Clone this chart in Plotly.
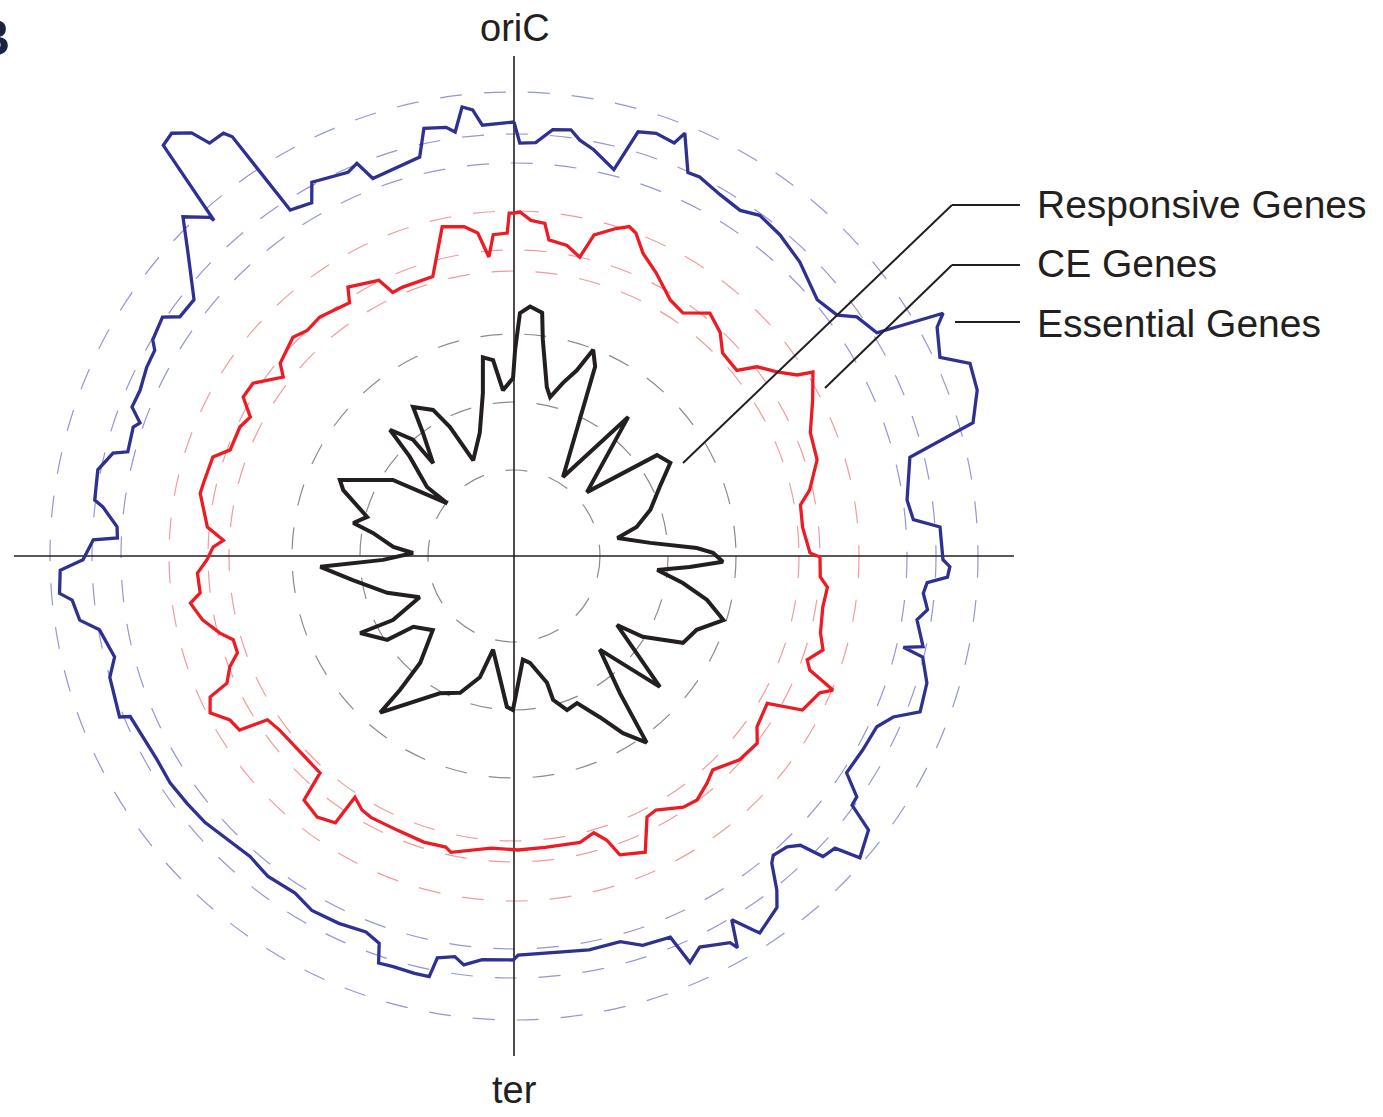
import numpy as np
import plotly.graph_objects as go

W, H = 1383, 1117
CX, CY, R = 514, 556, 500  # centre of the circular plot (px from top-left) and axis half-length

# ---- data: (genome angle in degrees clockwise from oriC, radial value) ----
essential = [(0, 434), (0.8, 413), (3.0, 414), (5.2, 428), (7.6, 430), (9.0, 421), (11.1, 414), (14.5, 399),
             (16.3, 442), (18.6, 446), (21.2, 443), (22.0, 456), (24.4, 421), (26.1, 422), (29.7, 416),
             (33.2, 413), (35.8, 420), (39.6, 417), (44.2, 410), (49.8, 397), (53.3, 403), (55.1, 418),
             (58.4, 426), (60.5, 493), (61.6, 481), (65.0, 470), (67.1, 495), (70.3, 492), (73.8, 478),
             (76.0, 408), (81.9, 397), (84.8, 401), (86.1, 427), (90.5, 429), (91.4, 436), (92.8, 434),
             (93.7, 414), (95.2, 411), (97.4, 417), (99.0, 408), (102.5, 419), (103.2, 400), (103.9, 421),
             (107.1, 432), (111.0, 435), (113.0, 412), (115.2, 401), (119.1, 399), (123.1, 397), (125.1, 419),
             (126.4, 420), (127.7, 448), (131.1, 459), (132.3, 434), (134.2, 431), (135.3, 407), (136.8, 399),
             (139.1, 396), (140.0, 401), (141.8, 425), (143.2, 439), (146.9, 450), (147.4, 444), (149.1, 424),
             (150.3, 451), (150.8, 443), (154.6, 433), (156.6, 443), (157.7, 412), (161.7, 410), (164.6, 400),
             (169.2, 401), (179.4, 399), (180.1, 404), (184.5, 405), (187.0, 412), (188.4, 405), (190.8, 409),
             (191.4, 429), (193.4, 429), (196.4, 428), (198.4, 429), (199.2, 410), (201.5, 404), (205.5, 407),
             (209.7, 408), (213.0, 402), (217.5, 404), (221.3, 400), (225.2, 403), (229.2, 408), (232.9, 410),
             (236.6, 412), (240.3, 411), (247.3, 416), (247.8, 426), (253.3, 422), (255.8, 412), (259.9, 421),
             (261.6, 439), (264.3, 444), (265.3, 456), (268.2, 454), (269.5, 431), (272.2, 421), (272.6, 397),
             (274.2, 398), (276.8, 414), (277.6, 423), (281.7, 425), (284.4, 414), (285.1, 400), (288.7, 402),
             (289.6, 397), (291.3, 410), (293.9, 409), (297.2, 413), (299.8, 414), (300.9, 421), (304.2, 425),
             (305.6, 411), (308.7, 410), (310.3, 422), (312.9, 445), (315.7, 474), (318.1, 455), (318.2, 450),
             (319.5, 540), (321.0, 544), (322.7, 532), (323.6, 513), (325.5, 513), (326.1, 505), (327.1, 412),
             (330.2, 407), (331.6, 425), (336.6, 418), (338.2, 423), (339.5, 403), (344.0, 407), (346.7, 410),
             (348.1, 437), (351.0, 434), (352.1, 428), (353.4, 452), (354.7, 448), (355.8, 432), (360, 434)]

ce = [(0, 343), (1.0, 344), (2.9, 336), (5.3, 334), (6.3, 318), (9.7, 315), (12.4, 306), (14.0, 331),
      (17.3, 343), (19.3, 349), (20.7, 345), (23.1, 329), (26.6, 317), (31.4, 300), (34.8, 296), (38.9, 312),
      (42.7, 304), (45.8, 291), (50.2, 290), (52.1, 308), (55.0, 321), (57.4, 336), (58.4, 351), (62.4, 337),
      (67.4, 321), (72.4, 318), (77.4, 303), (79.9, 291), (84.3, 290), (89.4, 296), (90.2, 306), (93.9, 307),
      (95.7, 315), (99.4, 313), (104.1, 316), (106.9, 323), (109.5, 311), (111.1, 317), (112.8, 346),
      (114.1, 335), (118.1, 327), (120.2, 293), (125.1, 297), (127.6, 307), (132.1, 304), (137.1, 292),
      (139.6, 298), (143.1, 305), (146.0, 303), (150.8, 291), (153.0, 293), (156.1, 324), (160.5, 317),
      (161.9, 299), (163.9, 288), (167.0, 294), (173.9, 293), (179.2, 294), (184.5, 293), (192.0, 303),
      (193.2, 299), (197.5, 300), (203.1, 298), (208.7, 298), (210.9, 296), (213.4, 289), (213.8, 321),
      (217.0, 327), (220.7, 322), (221.8, 291), (233.4, 292), (236.4, 296), (237.6, 325), (240.0, 328),
      (242.7, 342), (245.1, 335), (246.1, 314), (248.7, 305), (250.7, 293), (253.4, 293), (255.3, 304),
      (258.4, 318), (261.7, 327), (263.3, 316), (266.9, 317), (269.3, 307), (271.7, 301), (273.1, 291),
      (275.4, 308), (279.0, 315), (281.3, 320), (283.2, 319), (288.2, 317), (290.5, 303), (295.2, 303),
      (297.8, 298), (300.4, 314), (303.5, 313), (307.8, 292), (309.5, 303), (314.7, 311), (317.5, 306),
      (320.9, 308), (327.0, 302), (328.3, 316), (333.9, 307), (335.3, 290), (337.4, 291), (343.8, 291),
      (347.7, 337), (351.4, 333), (353.6, 325), (355.2, 300), (356.3, 322), (358.8, 323), (359.2, 343),
      (360, 343)]

responsive = [(0.3, 206), (1.4, 243), (3.7, 250), (6.6, 245), (7.6, 218), (11.0, 172), (12.8, 163),
              (15.8, 180), (18.7, 196), (21.0, 221), (23.2, 206), (25.3, 161), (31.8, 93), (39.4, 180),
              (48.8, 97), (54.8, 175), (59.2, 182), (64.7, 161), (71.3, 144), (76.7, 126), (80.1, 105),
              (84.5, 137), (87.5, 183), (89.1, 199), (91.6, 209), (93.6, 176), (95.6, 144), (99.1, 171),
              (102.8, 198), (107.0, 219), (112.0, 197), (117.2, 190), (122.1, 152), (123.8, 124), (131.9, 196),
              (137.5, 127), (142.3, 173), (144.6, 229), (148.4, 208), (151.9, 183), (156.8, 160), (161.0, 163),
              (164.8, 149), (165.4, 131), (171.5, 108), (175.1, 104), (178.7, 131), (180.4, 154), (182.7, 151),
              (186.4, 125), (192.6, 96), (195.7, 126), (201.5, 147), (208.4, 156), (215.3, 180), (220.5, 206),
              (220.4, 176), (221.3, 142), (227.6, 110), (234.9, 123), (236.5, 152), (243.4, 172), (242.1, 137),
              (246.4, 103), (253.8, 132), (261.5, 163), (266.8, 194), (267.5, 161), (268.3, 131), (271.7, 101),
              (274.3, 121), (279.3, 143), (281.6, 164), (284.9, 152), (291.1, 183), (293.6, 190), (297.3, 165),
              (302.1, 143), (308.3, 85), (308.4, 111), (313.6, 144), (315.5, 177), (319.0, 154), (318.9, 123),
              (323.5, 153), (325.9, 180), (331.0, 167), (333.6, 144), (336.9, 104), (344.5, 128), (349.2, 166),
              (351.1, 201), (353.9, 197), (356.2, 166), (359.7, 178), (360.3, 206)]

# dashed reference rings for each series (same radial units)
essential_rings = [393, 422, 464]
ce_rings = [285, 306, 345]
responsive_rings = [86, 154, 222]

# ---- styles ----
BLUE, RED, BLACK = "#2E3192", "#ED1C24", "#231F20"
BLUE_D, RED_D, GREY_D = "rgba(120,125,200,0.8)", "rgba(240,120,120,0.75)", "rgba(110,110,110,0.8)"
FONT = "Liberation Sans, Arial, sans-serif"


def to_xy(theta_deg, r):
    """Circular genome map: angle clockwise from oriC (top), radius = value."""
    t = np.deg2rad(np.asarray(theta_deg, dtype=float))
    r = np.asarray(r, dtype=float)
    return r * np.sin(t), r * np.cos(t)


fig = go.Figure()

# dashed rings
for rings, col in ((essential_rings, BLUE_D), (ce_rings, RED_D), (responsive_rings, GREY_D)):
    for rv in rings:
        fig.add_shape(type="circle", xref="x", yref="y", x0=-rv, y0=-rv, x1=rv, y1=rv, layer="below",
                      line=dict(color=col, width=1.2, dash="22px,22px"))

# oriC / ter axis and the perpendicular axis
fig.add_trace(go.Scatter(x=[-R, R], y=[0, 0], mode="lines", line=dict(color=BLACK, width=1.6),
                         hoverinfo="skip"))
fig.add_trace(go.Scatter(x=[0, 0], y=[R, -R], mode="lines", line=dict(color=BLACK, width=1.6),
                         hoverinfo="skip"))

for data, col, w, name in ((essential, BLUE, 3.3, "Essential Genes"),
                           (ce, RED, 3.3, "CE Genes"),
                           (responsive, BLACK, 4, "Responsive Genes")):
    th = [p[0] for p in data] + [data[0][0]]
    rr = [p[1] for p in data] + [data[0][1]]
    x, y = to_xy(th, rr)
    fig.add_trace(go.Scatter(x=x, y=y, mode="lines", name=name, line=dict(color=col, width=w),
                             cliponaxis=False))


def px(x):
    return x / W


def py(y):
    return 1 - y / H


fig.update_layout(
    width=W, height=H, margin=dict(l=0, r=0, t=0, b=0),
    paper_bgcolor="white", plot_bgcolor="white", showlegend=False,
    xaxis=dict(range=[-CX, W - CX], domain=[0, 1], visible=False, fixedrange=True),
    yaxis=dict(range=[-(H - CY), CY], domain=[0, 1], visible=False, fixedrange=True),
)

# leader lines for the labels
leaders = [[(683, 463), (952, 205), (1020, 205)],
           [(825, 388), (952, 265), (1020, 265)],
           [(955, 322), (1020, 322)]]
for pts in leaders:
    for (x0, y0), (x1, y1) in zip(pts[:-1], pts[1:]):
        fig.add_shape(type="line", xref="paper", yref="paper", x0=px(x0), y0=py(y0), x1=px(x1), y1=py(y1),
                      line=dict(color=BLACK, width=2))

labels = [("Responsive Genes", 205), ("CE Genes", 264), ("Essential Genes", 323)]
for txt, yy in labels:
    fig.add_annotation(text=txt, x=px(1035), y=py(yy), xref="paper", yref="paper", xanchor="left",
                       yanchor="middle", showarrow=False, font=dict(family=FONT, size=39, color=BLACK))

fig.add_annotation(text="oriC", x=px(515), y=py(28), xref="paper", yref="paper", xanchor="center",
                   yanchor="middle", showarrow=False, font=dict(family=FONT, size=38, color=BLACK))
fig.add_annotation(text="ter", x=px(514), y=py(1090), xref="paper", yref="paper", xanchor="center",
                   yanchor="middle", showarrow=False, font=dict(family=FONT, size=38, color=BLACK))
fig.add_annotation(text="<b>B</b>", x=px(12), y=py(38), xref="paper", yref="paper", xanchor="right",
                   yanchor="middle", showarrow=False, font=dict(family=FONT, size=50, color="#1c2340"))

fig.write_html("out.html", config={"displayModeBar": False},
               post_script="document.body.style.margin='0';")
